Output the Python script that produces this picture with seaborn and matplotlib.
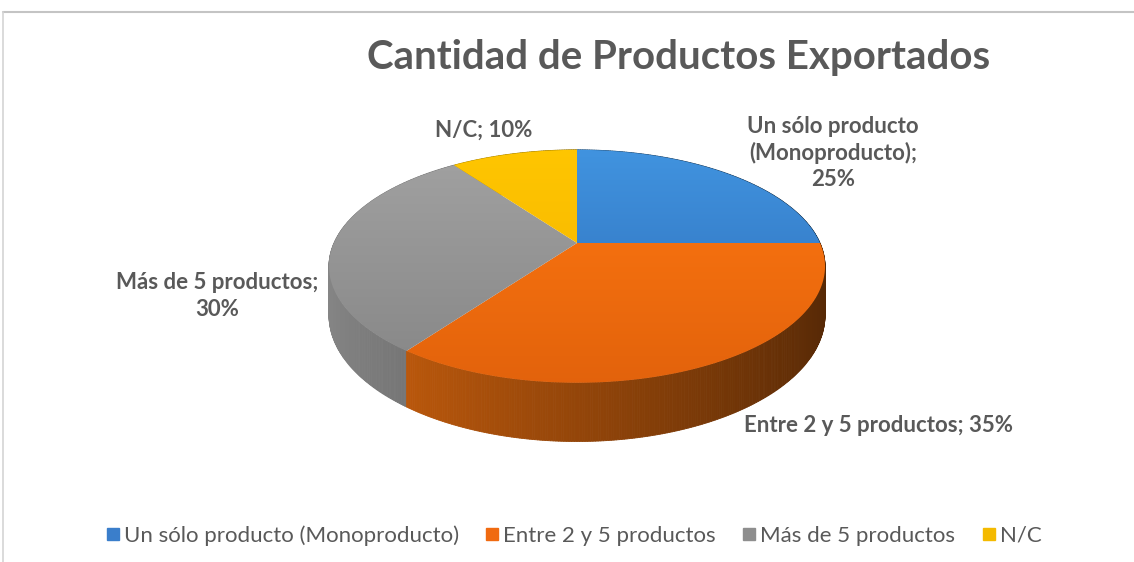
import numpy as np
import matplotlib
matplotlib.use("Agg")
import matplotlib.pyplot as plt
from matplotlib.collections import PolyCollection
from matplotlib.patches import Polygon
from matplotlib.lines import Line2D
import seaborn as sns

categorias = ["Un sólo producto (Monoproducto)", "Entre 2 y 5 productos",
              "Más de 5 productos", "N/C"]
porcentajes = [25, 35, 30, 10]
etiquetas = ["Un sólo producto\n(Monoproducto);\n25%",
             "Entre 2 y 5 productos; 35%",
             "Más de 5 productos;\n30%",
             "N/C; 10%"]
titulo = "Cantidad de Productos Exportados"

# top / bottom colour of each slice (Excel style gradient)
color_arriba = ["#4194e0", "#ff7810", "#a2a2a2", "#ffc600"]
color_abajo = ["#2c69b4", "#e2620c", "#858585", "#f2b000"]
color_leyenda = ["#3a7ecb", "#f06a10", "#8e8e8e", "#f4ba00"]
gris_texto = "#595959"

sns.set_theme(style="white")
plt.rcParams["font.family"] = ["Lato", "DejaVu Sans"]

# pie geometry in pixels (simple perspective)
cx, cy = 577, 243
rx, ry = 243, 111.8
persp = 0.2
prof = 47


def proj(phi, z=0.0):
    f = 1.0 / (1.0 + persp * np.sin(phi))
    return cx + rx * np.cos(phi) * f, cy - ry * np.sin(phi) * f + prof * z * f


fig = plt.figure(figsize=(11.34, 5.62), dpi=100)
ax = fig.add_axes([0, 0, 1, 1])

total = sum(porcentajes)
cum = np.cumsum([0] + porcentajes) / total
ini = np.pi / 2 - 2 * np.pi * cum[:-1]
fin = np.pi / 2 - 2 * np.pi * cum[1:]

# side of the cylinder, drawn back to front
quads, cols, orden = [], [], []
for i in range(len(porcentajes)):
    n = max(int(abs(fin[i] - ini[i]) / np.radians(0.5)), 2)
    ts = np.linspace(ini[i], fin[i], n + 1)
    base = np.array(matplotlib.colors.to_rgb(color_arriba[i]))
    for a, b in zip(ts[:-1], ts[1:]):
        m = (a + b) / 2
        q = [proj(a, 0), proj(b, 0), proj(b, 1), proj(a, 1)]
        k = 0.58 - 0.25 * np.cos(m)
        quads.append(q)
        cols.append(np.clip(base * k, 0, 1))
        orden.append(-np.sin(m))
idx = np.argsort(orden)
pc = PolyCollection([quads[j] for j in idx], facecolors=[cols[j] for j in idx],
                    edgecolors=[cols[j] for j in idx], linewidths=0.6)
ax.add_collection(pc)

# top face with vertical gradient
for i in range(len(porcentajes)):
    ts = np.linspace(ini[i], fin[i], 200)
    pts = [(cx, cy)] + [proj(t) for t in ts]
    patch = Polygon(pts, closed=True, facecolor="none", edgecolor="none")
    ax.add_patch(patch)
    c0 = np.array(matplotlib.colors.to_rgb(color_arriba[i]))
    c1 = np.array(matplotlib.colors.to_rgb(color_abajo[i]))
    g = np.linspace(0, 1, 256)[:, None, None]
    img = c0 * (1 - g) + c1 * g
    im = ax.imshow(img, extent=(320, 840, 390, 145), origin="upper",
                   aspect="auto", interpolation="bilinear", zorder=2)
    im.set_clip_path(patch)

ax.set_xlim(0, 1134)
ax.set_ylim(562, 0)
ax.axis("off")

# data labels
pos_etq = [(833, 153), (878, 425), (217, 296), (484, 130)]
for txt, (x, y) in zip(etiquetas, pos_etq):
    ax.text(x, y, txt, ha="center", va="center", fontsize=16,
            fontweight="bold", color=gris_texto, linespacing=1.3, zorder=5)

ax.text(679, 58, titulo, ha="center", va="center", fontsize=29,
        fontweight="bold", color=gris_texto, zorder=5)

# legend
handles = [Line2D([], [], marker="s", linestyle="none", markersize=8,
                  markerfacecolor=c, markeredgecolor=c) for c in color_leyenda]
fig.legend(handles, categorias, loc="center", bbox_to_anchor=(0.506, 0.047),
           ncol=4, frameon=False, fontsize=16, handlelength=0.6,
           handletextpad=0.2, columnspacing=1.2, labelcolor=gris_texto)

# chart border (cut by the image edges)
fig.add_artist(Line2D([3 / 1134, 1], [1 - 12 / 562, 1 - 12 / 562],
                      color="#c4c4c4", lw=1.5))
fig.add_artist(Line2D([3 / 1134, 3 / 1134], [0, 1 - 12 / 562],
                      color="#d4d4d4", lw=1.2))

fig.savefig("out.png", dpi=100, facecolor="white")
plt.close(fig)
